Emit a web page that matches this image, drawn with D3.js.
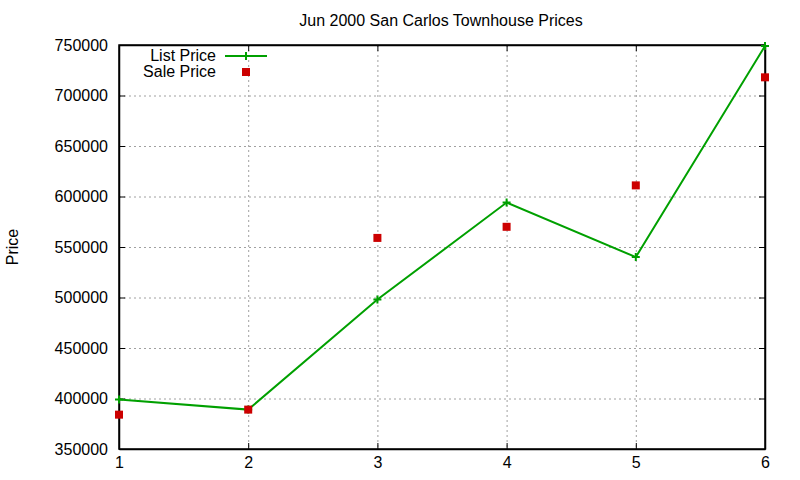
<!DOCTYPE html>
<html><head><meta charset="utf-8">
<script src="https://cdn.jsdelivr.net/npm/d3@7"></script>
<style>body{margin:0;background:#fff}svg{display:block}text{font-family:"Liberation Sans",Arial,sans-serif}</style>
</head><body>
<svg id="c" width="800" height="480"></svg>
<script>
const xValues = [1, 2, 3, 4, 5, 6];
const listPrice = [399000, 389000, 498000, 594000, 540000, 749000];
const salePrice = [384000, 389000, 559000, 570000, 611000, 718000];
const yTicks = [350000, 400000, 450000, 500000, 550000, 600000, 650000, 700000, 750000];
const xTicks = [1, 2, 3, 4, 5, 6];
const title = "Jun 2000 San Carlos Townhouse Prices";
const yLabel = "Price";
const seriesNames = ["List Price", "Sale Price"];

const svg = d3.select("#c");
const L = 119, R = 765, T = 45, B = 449;
const x = d3.scaleLinear().domain([1, 6]).range([L, R]);
const y = d3.scaleLinear().domain([350000, 750000]).range([B, T]);
const green = "#00a000", red = "#cc0000";

// grid
const g = svg.append("g");
g.selectAll(".gy").data(yTicks.slice(1, -1)).enter().append("line")
  .attr("x1", L).attr("x2", R).attr("y1", d => y(d) + 0.5).attr("y2", d => y(d) + 0.5)
  .attr("stroke", "#a0a0a0").attr("stroke-dasharray", "2,3").attr("stroke-width", 1);
g.selectAll(".gx").data(xTicks.slice(1, -1)).enter().append("line")
  .attr("x1", d => x(d) + 0.5).attr("x2", d => x(d) + 0.5).attr("y1", T).attr("y2", B)
  .attr("stroke", "#a0a0a0").attr("stroke-dasharray", "2,3").attr("stroke-width", 1);

// axes
const fmt = d3.format("d");
const axL = svg.append("g").attr("transform", `translate(${L},0)`)
  .call(d3.axisLeft(y).tickValues(yTicks).tickFormat(fmt).tickSizeInner(-6).tickSizeOuter(0).tickPadding(11));
const axR = svg.append("g").attr("transform", `translate(${R},0)`)
  .call(d3.axisRight(y).tickValues(yTicks).tickFormat("").tickSizeInner(-6).tickSizeOuter(0));
const axB = svg.append("g").attr("transform", `translate(0,${B})`)
  .call(d3.axisBottom(x).tickValues(xTicks).tickFormat(fmt).tickSizeInner(-6).tickSizeOuter(0).tickPadding(8));
const axT = svg.append("g").attr("transform", `translate(0,${T})`)
  .call(d3.axisTop(x).tickValues(xTicks).tickFormat("").tickSizeInner(-6).tickSizeOuter(0));
[axL, axR, axB, axT].forEach(a => {
  a.selectAll("path").attr("stroke", "#000").attr("stroke-width", 1.5);
  a.selectAll("line").attr("stroke", "#000").attr("stroke-width", 1);
  a.selectAll("text").attr("font-size", 16).attr("fill", "#000").attr("font-family", "Liberation Sans, Arial, sans-serif");
});
svg.append("rect").attr("x", L).attr("y", T).attr("width", R - L).attr("height", B - T)
  .attr("fill", "none").attr("stroke", "#000").attr("stroke-width", 1.5);

// list line
const pts = xValues.map((d, i) => [d, listPrice[i]]);
svg.append("path").datum(pts)
  .attr("d", d3.line().x(d => x(d[0])).y(d => y(d[1])))
  .attr("fill", "none").attr("stroke", green).attr("stroke-width", 2);
const plus = (sel, cx, cy) => {
  sel.append("path").attr("d", `M${cx - 4},${cy}H${cx + 4}M${cx},${cy - 4}V${cy + 4}`)
    .attr("stroke", green).attr("stroke-width", 2);
};
pts.forEach(d => plus(svg, x(d[0]), y(d[1])));

// sale points
svg.selectAll(".sp").data(xValues.map((d, i) => [d, salePrice[i]])).enter().append("rect")
  .attr("x", d => x(d[0]) - 4).attr("y", d => y(d[1]) - 4).attr("width", 8).attr("height", 8)
  .attr("fill", red);

// legend
svg.append("text").attr("x", 216).attr("y", 61).attr("text-anchor", "end").attr("font-size", 16).text(seriesNames[0]);
svg.append("text").attr("x", 216).attr("y", 77).attr("text-anchor", "end").attr("font-size", 16).text(seriesNames[1]);
svg.append("line").attr("x1", 225).attr("x2", 267).attr("y1", 56).attr("y2", 56).attr("stroke", green).attr("stroke-width", 2);
plus(svg, 246, 56);
svg.append("rect").attr("x", 242).attr("y", 68).attr("width", 8).attr("height", 8).attr("fill", red);

// title & label
svg.append("text").attr("x", 441).attr("y", 26).attr("text-anchor", "middle").attr("font-size", 16).text(title);
svg.append("text").attr("transform", "translate(18,247) rotate(-90)").attr("text-anchor", "middle").attr("font-size", 16).text(yLabel);
</script>
</body></html>
